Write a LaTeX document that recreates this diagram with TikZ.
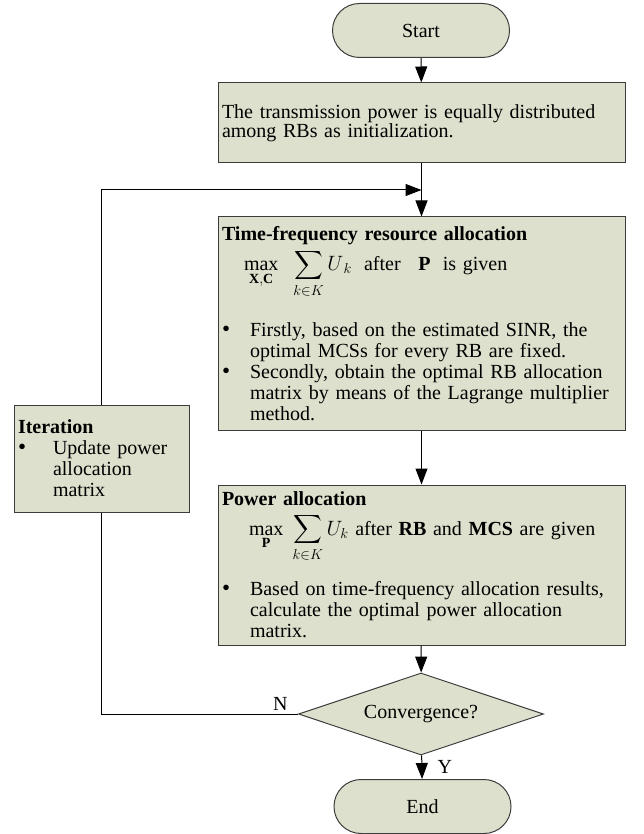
\documentclass[tikz,border=0pt]{standalone}
\usepackage{amsmath, amssymb}
\usepackage{fontspec}
\setmainfont{Liberation Serif}
\usepackage{tikz}
\usetikzlibrary{arrows.meta, positioning, calc, shapes.geometric}
\usepackage{xcolor}
\definecolor{boxfill}{RGB}{221,224,204}
\definecolor{boxline}{RGB}{60,60,60}
\newcommand{\bul}[1][28pt]{\makebox[#1][l]{\scalebox{1.15}{\textbullet}}}
\newcommand{\ind}[1][28pt]{\hspace*{#1}}

\begin{document}
\begin{tikzpicture}[x=1pt,y=-1pt,
  font=\fontsize{20}{21}\selectfont,
  box/.style={draw=boxline,fill=boxfill,line width=1pt,align=left,inner xsep=4pt,inner ysep=0pt},
  term/.style={draw=boxline,fill=boxfill,line width=1pt,rounded corners=27pt,minimum width=177pt,minimum height=54pt},
  decide/.style={diamond,aspect=3,draw=boxline,fill=boxfill,line width=1pt,inner sep=0pt,minimum width=245pt,minimum height=82pt},
  arr/.style={-{Triangle[length=16pt,width=12pt]},line width=1pt}]
  \useasboundingbox (0,0) rectangle (643,834);
  % nodes
  \node[term] (start) at (421,30.5) {Start};
  \node[box,text width=399pt,minimum height=80pt] (init) at (421.5,123)
    {The transmission power is equally distributed\\[-2pt]among RBs as initialization.};
  \node[box,text width=399pt,minimum height=213pt] (tf) at (421.5,323.5)
    {\textbf{Time-frequency resource allocation}\\[4pt]
     \ind[22pt]$\displaystyle\max_{\mathbf{X},\mathbf{C}}\;\;\sum_{k\in K}U_{\,k}$\; after\;\; $\mathbf{P}$\; is given\\[24pt]
     \bul Firstly, based on the estimated SINR, the\\
     \ind optimal MCSs for every RB are fixed.\\
     \bul Secondly, obtain the optimal RB allocation\\
     \ind matrix by means of the Lagrange multiplier\\
     \ind method.};
  \node[box,text width=399pt,minimum height=160pt] (power) at (421.5,565)
    {\textbf{Power allocation}\\[7pt]
     \ind[27pt]$\displaystyle\max_{\mathbf{P}}\;\sum_{k\in K}U_{k}$\ after \textbf{RB} and \textbf{MCS} are given\\[19pt]
     \bul Based on time-frequency allocation results,\\
     \ind calculate the optimal power allocation\\
     \ind matrix.};
  \node[box,text width=167pt,minimum height=107pt] (iter) at (101.5,458.5)
    {\textbf{Iteration}\\
     \bul[35pt]Update power\\
     \ind[35pt]allocation\\
     \ind[35pt]matrix};
  \node[decide] (conv) at (421,714) {Convergence?};
  \node[term] (end) at (422.5,806.5) {End};
  % connectors
  \coordinate (loop) at ($(init.south)!0.5!(tf.north)$);
  \draw[arr] (start) -- (init);
  \draw[line width=1pt] (init) -- (loop);
  \draw[arr] (loop) -- (tf);
  \draw[arr] (tf) -- (power);
  \draw[arr] (power) -- (conv);
  \draw[arr] (conv) -- node[right,xshift=12pt]{Y} (end);
  \draw[line width=1pt] (conv.west) -- node[above,pos=0.09]{N} (conv.west -| iter.south) -- (iter.south);
  \draw[arr] (iter.north) -- (iter.north |- loop) -- (loop);
\end{tikzpicture}
\end{document}
